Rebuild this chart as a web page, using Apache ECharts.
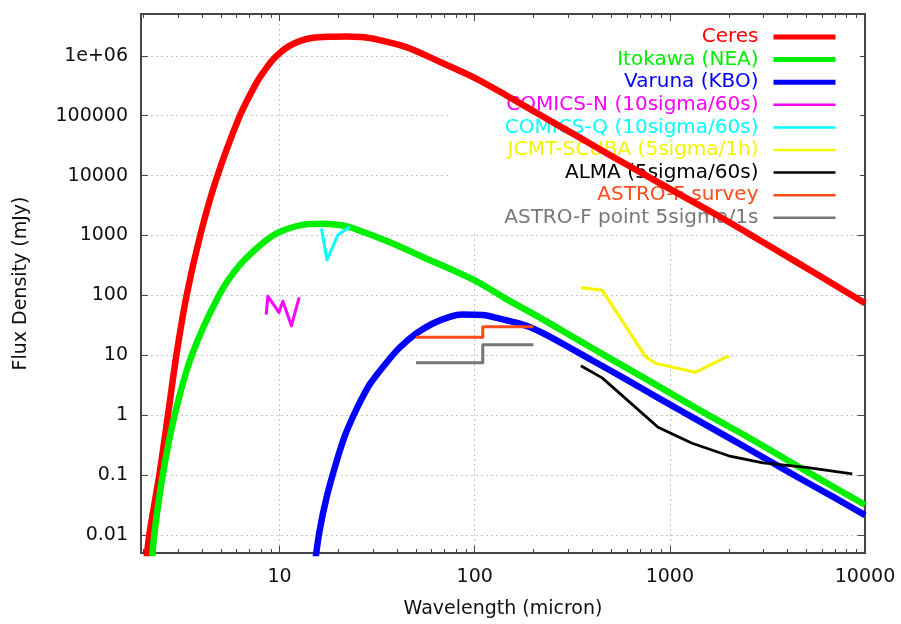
<!DOCTYPE html>
<html><head><meta charset="utf-8">
<script src="https://cdn.jsdelivr.net/npm/echarts@6/dist/echarts.min.js"></script>
<style>html,body{margin:0;padding:0;background:#fff}#c{width:901px;height:624px}</style>
</head><body><div id="c"></div>
<script>
// ---- data ----
const seriesNames = ['Ceres', 'Itokawa (NEA)', 'Varuna (KBO)', 'COMICS-N (10sigma/60s)', 'COMICS-Q (10sigma/60s)',
  'JCMT-SCUBA (5sigma/1h)', 'ALMA (5sigma/60s)', 'ASTRO-F survey', 'ASTRO-F point 5sigma/1s'];

const ceresWave = [2.05, 2.15, 2.42, 2.68, 2.96, 3.34, 3.92, 4.7, 6.22, 7.6, 8.4, 9.2, 10.2, 11.3, 12.8, 14.8, 18, 22, 26, 30, 44.6, 66, 100, 147, 220, 330, 493, 738, 1000, 1660, 2480, 3720, 5560, 10000];
const ceresFlux = [0.0025, 0.01, 0.1, 1, 10, 100, 1000, 8000, 9.5e4, 3.5e5, 5.75e5, 8.5e5, 1.17e6, 1.48e6, 1.78e6, 2.0e6, 2.09e6, 2.11e6, 2.07e6, 1.95e6, 1.4e6, 8e5, 4.3e5, 2.14e5, 1.0e5, 4.7e4, 2.2e4, 1.05e4, 6000, 2400, 1120, 510, 235, 74];

const itokawaWave = [2.2, 2.28, 2.52, 2.9, 3.55, 4.89, 6.22, 8.24, 10, 13.9, 17, 20.8, 23.8, 35.7, 53.5, 100, 147, 220, 330, 493, 738, 1107, 1660, 2480, 3720, 5560, 10000];
const itokawaFlux = [0.0025, 0.01, 0.1, 1, 10, 100, 316, 760, 1150, 1550, 1580, 1480, 1320, 800, 447, 178, 85, 41, 19, 8.9, 4.2, 1.95, 0.91, 0.44, 0.204, 0.095, 0.032];

const varunaWave = [15, 16, 17.5, 19.5, 21.6, 23.8, 26.4, 29.2, 35.7, 41.3, 50, 61, 74.5, 86, 110, 134, 163, 199, 253, 403, 603, 903, 1350, 2030, 3030, 4550, 6800, 10000];
const varunaFlux = [0.0025, 0.0112, 0.045, 0.16, 0.45, 0.95, 1.9, 3.4, 7.9, 13.5, 23, 34, 44, 48, 47, 41, 35, 28, 19, 8.1, 3.9, 1.82, 0.87, 0.41, 0.195, 0.091, 0.044, 0.0214];

const comicsNWave = [8.55, 8.71, 9.92, 10.4, 11.5, 12.6];
const comicsNFlux = [48, 97, 52, 80, 31, 93];

const comicsQWave = [16.4, 17.5, 19.9, 22.9];
const comicsQFlux = [1310, 390, 1020, 1400];

const scubaWave = [350, 450, 750, 850, 1350, 2000];
const scubaFlux = [135, 122, 9.5, 7.3, 5.2, 9.8];

const almaWave = [350, 450, 870, 1300, 2000, 3000, 5000, 8600];
const almaFlux = [6.7, 4.2, 0.63, 0.34, 0.21, 0.16, 0.135, 0.105];

const astroSurveyWave = [50, 110, 110, 200];
const astroSurveyFlux = [20, 20, 30, 30];

const astroPointWave = [50, 110, 110, 200];
const astroPointFlux = [7.5, 7.5, 15, 15];

const xTickValues = [10, 100, 1000, 10000];
const xTickLabels = ['10', '100', '1000', '10000'];
const xMinorMultiples = [2, 3, 4, 5, 6, 7, 8, 9];
const yTickValues = [0.01, 0.1, 1, 10, 100, 1000, 10000, 100000, 1000000];
const yTickLabels = ['0.01', '0.1', '1', '10', '100', '1000', '10000', '100000', '1e+06'];

// ---- styling ----
const waves = [ceresWave, itokawaWave, varunaWave, comicsNWave, comicsQWave, scubaWave, almaWave, astroSurveyWave, astroPointWave];
const fluxes = [ceresFlux, itokawaFlux, varunaFlux, comicsNFlux, comicsQFlux, scubaFlux, almaFlux, astroSurveyFlux, astroPointFlux];
const colors = ['#ff0000', '#00ee00', '#0000ff', '#ff00ff', '#00ffff', '#f5f500', '#000000', '#ff4a1a', '#777777'];
const lineWidths = [6.5, 6.5, 6.5, 3, 3, 3.2, 2.8, 3, 3];
const legendWidths = [5, 5, 5, 2.5, 2.5, 2.5, 2.5, 2.5, 2.5];
const FONT = 'DejaVu Sans';
const AX = '#444';
const X_MIN = 1.95, X_MAX = 10000, Y_MIN = 0.005, Y_MAX = 5e6;

function labelFor(values, labels) {
  return function (v) {
    for (let i = 0; i < values.length; i++) {
      if (Math.abs(Math.log10(v) - Math.log10(values[i])) < 1e-6) return labels[i];
    }
    return '';
  };
}

const chart = echarts.init(document.getElementById('c'), null, { renderer: 'canvas' });
const option = {
  animation: false,
  backgroundColor: '#ffffff',
  grid: { left: 141, right: 36, top: 14, bottom: 68, containLabel: false },
  legend: {
    orient: 'vertical', right: 41, top: 22, align: 'right', z: 1,
    backgroundColor: '#ffffff', padding: [5, 22, 3, 53],
    itemWidth: 62, itemHeight: 6, itemGap: 2.6, selectedMode: false,
    textStyle: { fontFamily: FONT, fontSize: 20, lineHeight: 20, padding: [0, 10, 0, 0] },
    data: seriesNames.map((n, i) => ({
      name: n,
      textStyle: { color: colors[i] },
      lineStyle: { width: legendWidths[i], color: colors[i] },
      itemStyle: { color: 'rgba(0,0,0,0)', borderWidth: 0, borderColor: 'rgba(0,0,0,0)' }
    }))
  },
  xAxis: [{
    type: 'log', logBase: 10, min: X_MIN, max: X_MAX, position: 'bottom',
    name: 'Wavelength (micron)', nameLocation: 'middle', nameGap: 47,
    nameTextStyle: { fontFamily: FONT, fontSize: 19, color: '#111' },
    axisLine: { show: true, onZero: false, lineStyle: { color: AX, width: 2 } },
    axisTick: { show: true, inside: true, length: 7, lineStyle: { color: AX, width: 1 } },
    axisLabel: { formatter: labelFor(xTickValues, xTickLabels), margin: 15, fontFamily: FONT, fontSize: 19, color: '#111' },
    splitLine: { show: true, lineStyle: { color: '#c4c4c4', width: 1, type: [2, 3] } }
  }, {
    type: 'log', logBase: 10, min: X_MIN, max: X_MAX, position: 'top',
    axisLine: { show: true, onZero: false, lineStyle: { color: AX, width: 2 } },
    axisTick: { show: true, inside: true, length: 7, lineStyle: { color: AX, width: 1 } },
    axisLabel: { show: false }, splitLine: { show: false }
  }],
  yAxis: [{
    type: 'log', logBase: 10, min: Y_MIN, max: Y_MAX, position: 'left',
    name: 'Flux Density (mJy)', nameLocation: 'middle', nameGap: 110, nameRotate: 90,
    nameTextStyle: { fontFamily: FONT, fontSize: 19, color: '#111' },
    axisLine: { show: true, onZero: false, lineStyle: { color: AX, width: 2 } },
    axisTick: { show: true, inside: true, length: 7, lineStyle: { color: AX, width: 1 } },
    axisLabel: { formatter: labelFor(yTickValues, yTickLabels), margin: 13, fontFamily: FONT, fontSize: 19, color: '#111' },
    splitLine: { show: true, lineStyle: { color: '#c4c4c4', width: 1, type: [2, 3] } }
  }, {
    type: 'log', logBase: 10, min: Y_MIN, max: Y_MAX, position: 'right',
    axisLine: { show: true, onZero: false, lineStyle: { color: AX, width: 2 } },
    axisTick: { show: true, inside: true, length: 7, lineStyle: { color: AX, width: 1 } },
    axisLabel: { show: false }, splitLine: { show: false }
  }],
  series: seriesNames.map((n, i) => ({
    name: n, type: 'line', xAxisIndex: 0, yAxisIndex: 0,
    data: waves[i].map((w, k) => [w, fluxes[i][k]]),
    symbol: 'none', showSymbol: false, silent: true, clip: true, z: 2,
    smooth: i < 3 ? 0.3 : false,
    lineStyle: { color: colors[i], width: lineWidths[i], cap: 'butt', join: 'round' },
    itemStyle: { color: colors[i] }
  }))
};
chart.setOption(option);

// minor ticks (2..9 of every decade) on bottom and top x axes, placed through the axis scale
const yBottom = chart.convertToPixel({ yAxisIndex: 0 }, Y_MIN);
const yTop = chart.convertToPixel({ yAxisIndex: 0 }, Y_MAX);
const minorEls = [];
for (let e = 0; e <= 3; e++) {
  xMinorMultiples.forEach(m => {
    const v = m * Math.pow(10, e);
    if (v <= X_MIN || v >= X_MAX) return;
    const x = Math.round(chart.convertToPixel({ xAxisIndex: 0 }, v)) + 0.5;
    minorEls.push({ type: 'line', silent: true, z: 3, shape: { x1: x, y1: yBottom, x2: x, y2: yBottom - 4 }, style: { stroke: AX, lineWidth: 1 } });
    minorEls.push({ type: 'line', silent: true, z: 3, shape: { x1: x, y1: yTop, x2: x, y2: yTop + 4 }, style: { stroke: AX, lineWidth: 1 } });
  });
}
chart.setOption({ graphic: { elements: minorEls } });
</script>
</body></html>
